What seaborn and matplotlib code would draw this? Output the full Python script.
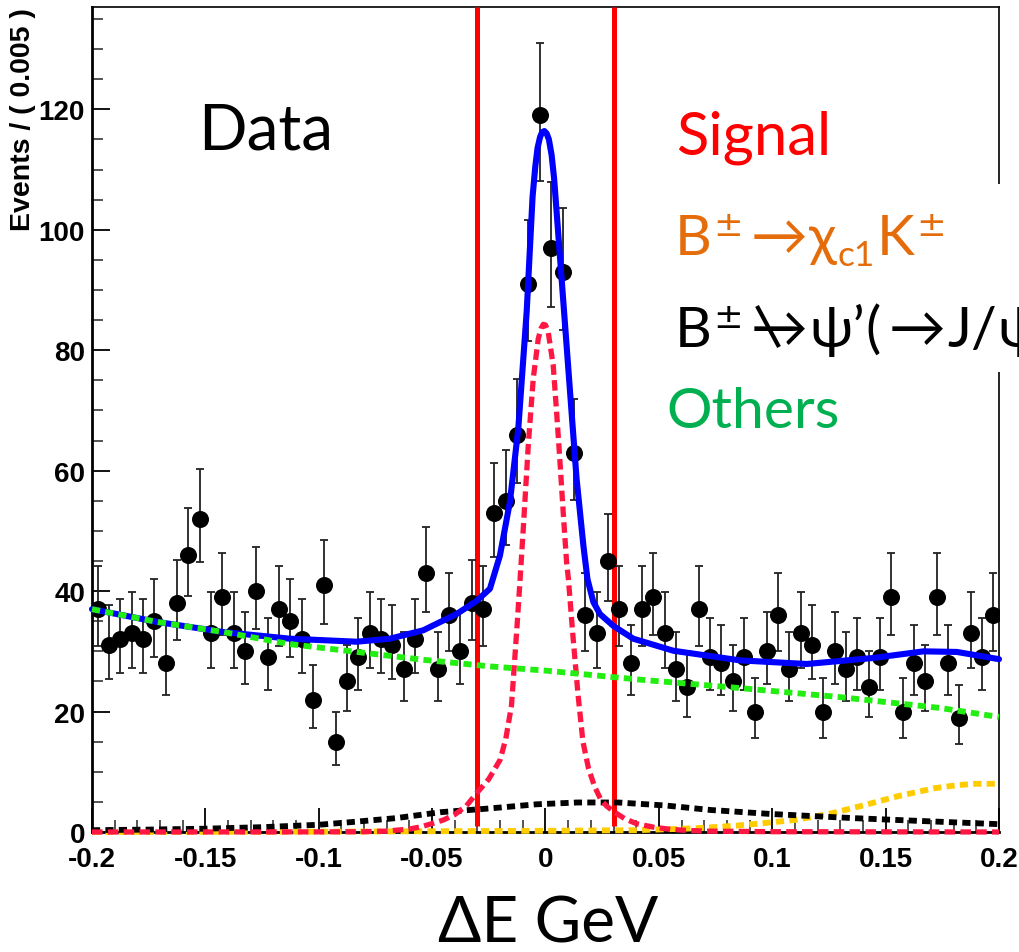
import numpy as np
import pandas as pd
import matplotlib
matplotlib.use("Agg")
import matplotlib.pyplot as plt
import matplotlib.transforms as mtransforms
from matplotlib.patches import Rectangle
from matplotlib.lines import Line2D
import seaborn as sns

# ---------------- data ----------------
x_low = -0.2
bin_width = 0.005
counts = [37, 31, 32, 33, 32, 35, 28, 38, 46, 52,
          33, 39, 33, 30, 40, 29, 37, 35, 32, 22,
          41, 15, 25, 29, 33, 32, 31, 27, 32, 43,
          27, 36, 30, 38, 37, 53, 55, 66, 91, 119,
          97, 93, 63, 36, 33, 45, 37, 28, 37, 39,
          33, 27, 24, 37, 29, 28, 25, 29, 20, 30,
          36, 27, 33, 31, 20, 30, 27, 29, 24, 29,
          39, 20, 28, 25, 39, 28, 19, 33, 29, 36]

total_x = [-0.2, -0.1715, -0.142, -0.1127, -0.0833, -0.0686, -0.0539, -0.0392,
           -0.0303, -0.0245, -0.0201, -0.0157, -0.012, -0.0083, -0.0057, -0.0045,
           -0.0035, -0.0024, -0.0015, -0.0005, 0.0005, 0.0015, 0.0027, 0.0038,
           0.0049, 0.0071, 0.0093, 0.0115, 0.0137, 0.0167,
           0.0185, 0.0211, 0.024, 0.03, 0.0387, 0.0564, 0.0858, 0.1152,
           0.1446, 0.1667, 0.1814, 0.2]
total_y = [37.0, 34.9, 33.2, 32.1, 31.6, 32.1, 33.5, 36.2,
           38.4, 40.4, 45.9, 54.8, 67.0, 86.4, 105.5, 110.5,
           113.6, 115.4, 116.2, 116.4, 116.0, 115.0, 112.4, 108.5,
           103.0, 91.9, 80.8, 69.7, 58.7, 47.6,
           42.0, 38.2, 36.2, 34.2, 32.1, 30.1, 28.5, 27.9,
           28.9, 30.0, 29.9, 28.7]

signal_x = [-0.2, -0.1, -0.08, -0.07, -0.06, -0.055, -0.05, -0.045, -0.04, -0.035,
            -0.03, -0.025, -0.02, -0.0175, -0.015, -0.0125, -0.0112, -0.0098, -0.0076,
            -0.0054, -0.0032, -0.002, -0.001, 0.0, 0.0012, 0.0034, 0.0049, 0.0064,
            0.0078, 0.0093, 0.0101, 0.012, 0.0143, 0.0165, 0.019, 0.0217, 0.0245,
            0.027, 0.03, 0.035, 0.04, 0.0476, 0.055, 0.0605, 0.07, 0.1, 0.2]
signal_y = [0.0, 0.02, 0.05, 0.15, 0.5, 0.85, 1.4, 2.0, 2.9, 4.3,
            6.6, 8.8, 12.0, 15.5, 21.0, 34.5, 42.0, 50.4, 64.2,
            75.3, 81.9, 83.6, 84.3, 84.2, 83.0, 77.5, 69.7, 61.4,
            53.1, 44.8, 42.0, 33.0, 23.0, 15.0, 10.5, 7.5, 5.3,
            4.3, 3.4, 2.2, 1.4, 0.8, 0.45, 0.3, 0.15, 0.05, 0.0]

others_x = [-0.2, -0.1715, -0.142, -0.1127, -0.0833, -0.0539, -0.0245, 0.0,
            0.0417, 0.0858, 0.1299, 0.174, 0.2]
others_y = [37.0, 34.9, 33.2, 31.2, 29.9, 28.6, 27.5, 26.8,
            25.3, 23.9, 22.4, 20.6, 19.1]

psi2s_x = [-0.2, -0.175, -0.15, -0.125, -0.1, -0.087, -0.066, -0.046, -0.025,
           -0.004, 0.014, 0.032, 0.053, 0.073, 0.099, 0.12, 0.136, 0.161, 0.2]
psi2s_y = [0.3, 0.4, 0.55, 0.8, 1.2, 1.6, 2.3, 3.3, 3.9,
           4.6, 4.9, 4.9, 4.4, 3.65, 3.0, 2.6, 2.3, 1.9, 1.3]

chic1_x = [-0.2, -0.1, 0.0, 0.04, 0.058, 0.07, 0.084, 0.097, 0.11, 0.125,
           0.14, 0.156, 0.172, 0.182, 0.19, 0.2]
chic1_y = [0.0, 0.05, 0.2, 0.3, 0.5, 0.7, 1.05, 1.5, 2.0, 3.0,
           4.4, 6.0, 7.3, 7.8, 8.0, 8.0]

cut_lines = [-0.03, 0.03]
x_ticks = [-0.2, -0.15, -0.1, -0.05, 0.0, 0.05, 0.1, 0.15, 0.2]
x_tick_labels = ["-0.2", "-0.15", "-0.1", "-0.05", "0", "0.05", "0.1", "0.15", "0.2"]
y_ticks = [0, 20, 40, 60, 80, 100, 120]
y_tick_labels = ["0", "20", "40", "60", "80", "100", "120"]

# ---------------- style ----------------
sns.set_theme(style="ticks")
plt.rcParams["font.family"] = ["Liberation Sans", "DejaVu Sans"]
TXT_FAMILY = ["Lato", "DejaVu Sans"]
SYM_FAMILY = ["DejaVu Sans"]

W, H, DPI = 1019, 953, 100
PT = 72.0 / DPI  # points per pixel
fig = plt.figure(figsize=(W / DPI, H / DPI), dpi=DPI)
ax = fig.add_axes([92 / W, 1 - 833 / H, (999 - 92) / W, (833 - 8) / H])
ax.set_facecolor("white")
fig.patch.set_facecolor("white")

counts_arr = np.array(counts, dtype=float)
centers = x_low + bin_width * (np.arange(len(counts)) + 0.5)
# asymmetric Poisson (Gehrels) error bars
err_lo = np.sqrt(counts_arr - 0.25)
err_hi = 1 + np.sqrt(counts_arr + 0.75)
df_data = pd.DataFrame({"x": centers, "n": counts_arr})


def curve(xs, ys, color, lw, dashes=None, z=3):
    d = pd.DataFrame({"x": xs, "y": ys})
    sns.lineplot(data=d, x="x", y="y", color=color, lw=lw, ax=ax, sort=True,
                 estimator=None, zorder=z)
    ln = ax.lines[-1]
    if dashes is not None:
        ln.set_dashes(dashes)
        ln.set_dash_capstyle("butt")
    ln.set_clip_on(False)
    return ln


for xc in cut_lines:
    ax.plot([xc, xc], [1.0, 137], color="#ff0000", lw=3.6, zorder=4,
            solid_capstyle="butt")

ax.errorbar(centers, counts_arr, yerr=[err_lo, err_hi], fmt="none",
            ecolor="#222222", elinewidth=1.3, capsize=2.6, capthick=1.3, zorder=5)
sns.scatterplot(data=df_data, x="x", y="n", color="black", s=150, marker="o",
                edgecolor="black", linewidth=0, ax=ax, zorder=6)

curve(total_x, total_y, "#0000ff", 4.4, z=7)
curve(chic1_x, chic1_y, "#ffcc00", 4.2, dashes=(1.4, 0.9), z=7.5)
curve(psi2s_x, psi2s_y, "black", 4.2, dashes=(1.4, 0.9), z=7.6)
curve(signal_x, signal_y, "#ff1744", 3.8, dashes=(2.0, 1.0), z=7.7)
curve(others_x, others_y, "#22ee11", 4.2, dashes=(1.4, 0.9), z=7.8)

ax.set_xlim(-0.2, 0.2)
ax.set_ylim(0, 137)
ax.set_xlabel("")
ax.set_ylabel("")
ax.set_xticks(x_ticks)
ax.set_xticklabels(x_tick_labels)
ax.set_yticks(y_ticks)
ax.set_yticklabels(y_tick_labels)
ax.set_xticks(np.arange(-0.2, 0.2001, 0.01), minor=True)
ax.set_yticks(np.arange(0, 136, 5), minor=True)
ax.tick_params(axis="both", which="major", direction="in", width=1.3,
               labelsize=20, colors="black")
ax.tick_params(axis="both", which="minor", direction="in", width=1.1)
ax.tick_params(axis="x", which="major", length=24 * PT, pad=10)
ax.tick_params(axis="x", which="minor", length=12 * PT)
ax.tick_params(axis="y", which="major", length=18 * PT, pad=5)
ax.tick_params(axis="y", which="minor", length=11 * PT)
for lab in ax.get_xticklabels() + ax.get_yticklabels():
    lab.set_fontweight("bold")
for sp in ax.spines.values():
    sp.set_visible(True)
    sp.set_color("black")
    sp.set_linewidth(1.2)
ax.spines["left"].set_linewidth(2.0)
ax.spines["bottom"].set_linewidth(2.0)

ident = mtransforms.IdentityTransform()

fig.text(23, H - 8, "Events / ( 0.005 )", transform=ident, rotation=90,
         ha="center", va="top", fontsize=20.5, fontweight="bold", color="black")
fig.text(548, H - 943, "\u0394E GeV", transform=ident, ha="center", va="baseline",
         fontsize=46, family=TXT_FAMILY, color="black")

# white box behind the legend labels
fig.patches.append(Rectangle((655, H - 373), 400, 188, transform=ident,
                             facecolor="white", edgecolor="none", zorder=5))

fig.canvas.draw()
renderer = fig.canvas.get_renderer()


def place(pieces, base_px, color, size_pt):
    prev_end = -1e9
    for txt, x_px, scale, rise, fam in pieces:
        x = max(x_px, prev_end + 1)
        t = fig.text(x, H - base_px + rise * size_pt / PT, txt,
                     transform=ident, fontsize=size_pt * scale, color=color,
                     family=fam, va="baseline", ha="left", zorder=8)
        prev_end = t.get_window_extent(renderer).x1


place([("Data", 198, 1.0, 0.0, TXT_FAMILY)], 150, "black", 46)
place([("Signal", 676, 1.0, 0.0, TXT_FAMILY)], 155, "#ff0000", 43)
place([("B", 675, 1.0, 0.0, TXT_FAMILY),
       ("\u00b1", 706, 0.62, 0.33, SYM_FAMILY),
       ("\u2192", 751, 1.0, 0.0, TXT_FAMILY),
       ("\u03c7", 805, 1.0, 0.0, TXT_FAMILY),
       ("c1", 836, 0.62, -0.2, TXT_FAMILY),
       ("K", 877, 1.0, 0.0, TXT_FAMILY),
       ("\u00b1", 910, 0.62, 0.33, SYM_FAMILY)], 255, "#e46c0a", 41)
place([("B", 675, 1.0, 0.0, TXT_FAMILY),
       ("\u00b1", 706, 0.62, 0.33, SYM_FAMILY),
       ("\u2192", 751, 1.0, 0.0, TXT_FAMILY),
       ("\u03c8\u2019", 806, 1.0, 0.0, TXT_FAMILY),
       ("(", 858, 1.0, 0.0, TXT_FAMILY),
       ("\u2192", 889, 1.0, 0.0, TXT_FAMILY),
       ("J/", 944, 1.0, 0.0, TXT_FAMILY),
       ("\u03c8", 994, 1.0, 0.0, TXT_FAMILY)], 347, "black", 41)
# stroke crossing the first arrow of the J/psi line
fig.add_artist(Line2D([757, 779], [H - 307, H - 348], transform=ident,
                      color="black", lw=3.0, solid_capstyle="butt", zorder=8))
place([("Others", 666, 1.0, 0.0, TXT_FAMILY)], 428, "#00b050", 41)

fig.savefig("out.png", dpi=DPI, facecolor="white")
